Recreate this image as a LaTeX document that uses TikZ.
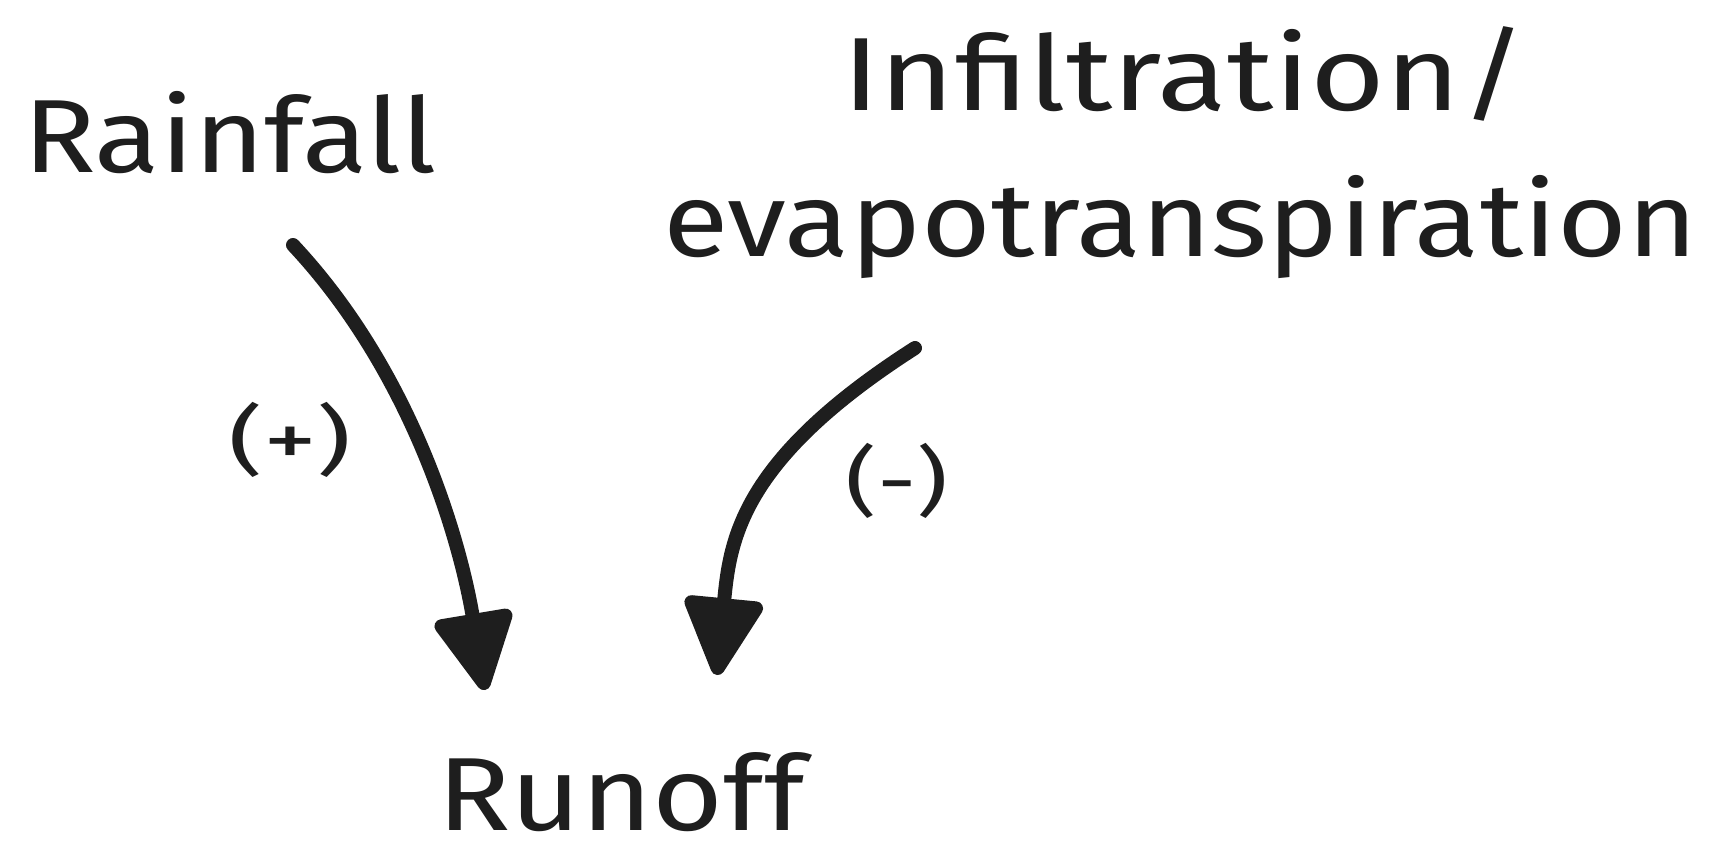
\documentclass[tikz,border=0pt]{standalone}
\usepackage{fontspec}
\setmainfont{Fira Sans}
\usetikzlibrary{arrows.meta}
\definecolor{ink}{HTML}{1E1E1E}
\tikzset{
  lbl/.style={inner sep=0pt, outer sep=0pt, text=ink, anchor=base west,
    font=\fontsize{104}{120}\selectfont},
  sgn/.style={inner sep=0pt, outer sep=0pt, text=ink,
    font=\fontsize{76}{86}\selectfont},
  flow/.style={draw=ink, line width=14pt, line cap=round,
    -{Triangle[length=86pt,width=84pt,round]}}
}
\begin{document}
\begin{tikzpicture}[x=1pt,y=-1pt]
\useasboundingbox[fill=white] (0,0) rectangle (1714,844);
\node[lbl] (rain) at (23,172) {\resizebox{414pt}{\height}{Rainfall}};
\node[lbl] (infil) at (842,110) {\resizebox{685pt}{\height}{Infiltration/}};
\node[lbl] (evapo) at (663,256) {\resizebox{1034pt}{\height}{evapotranspiration}};
\node[lbl] (run) at (437,830) {\resizebox{368pt}{\height}{Runoff}};
\node[sgn] (plus) at (290,440) {\resizebox{124pt}{\height}{(+)}};
\node[sgn] (minus) at (897,481) {\resizebox{103pt}{\height}{(-)}};
\coordinate (a1s) at (293,245);
\coordinate (a1e) at (485,690);
\coordinate (a2s) at (915,348);
\coordinate (a2e) at (717,675);
\draw[flow] (a1s) .. controls (412,372) and (460,540) .. (a1e);
\draw[flow] (a2s) .. controls (740,460) and (730,540) .. (a2e);
\end{tikzpicture}
\end{document}
